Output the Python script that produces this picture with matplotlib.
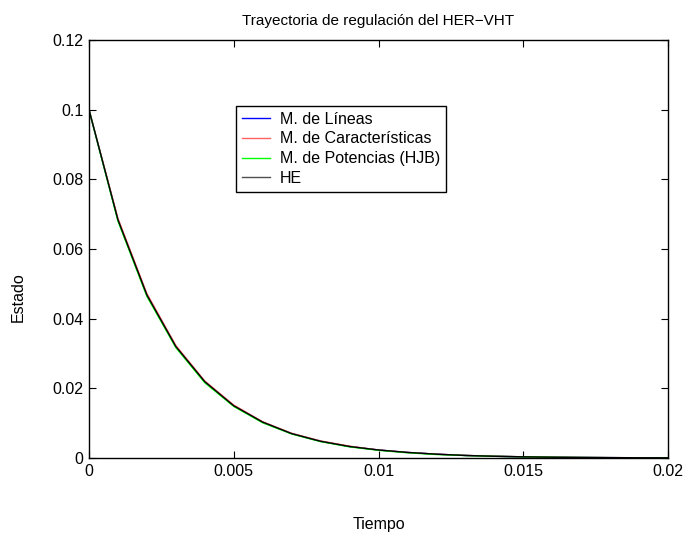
import matplotlib
matplotlib.use('agg')
import matplotlib.pyplot as plt

plt.rcParams['font.family'] = ['Liberation Sans', 'DejaVu Sans']

tiempo = [0.000, 0.001, 0.002, 0.003, 0.004, 0.005, 0.006, 0.007, 0.008, 0.009, 0.010,
          0.011, 0.012, 0.013, 0.014, 0.015, 0.016, 0.017, 0.018, 0.019, 0.020]

m_lineas = [0.1000, 0.0684, 0.0468, 0.0320, 0.0219, 0.0150, 0.0103, 0.0070, 0.0048, 0.0033, 0.0023,
            0.0016, 0.0011, 0.00073, 0.00050, 0.00034, 0.00023, 0.00016, 0.00011, 0.00007, 0.00005]
m_caract = [0.1000, 0.0688, 0.0472, 0.0323, 0.0221, 0.0152, 0.0104, 0.0071, 0.0049, 0.0034, 0.0023,
            0.0016, 0.0011, 0.00075, 0.00051, 0.00035, 0.00024, 0.00016, 0.00011, 0.00008, 0.00005]
m_potencias = [0.1000, 0.0680, 0.0464, 0.0317, 0.0216, 0.0148, 0.0101, 0.0069, 0.0047, 0.0032, 0.0022,
               0.0015, 0.0010, 0.00071, 0.00048, 0.00033, 0.00022, 0.00015, 0.00010, 0.00007, 0.00005]
he = [0.1000, 0.0684, 0.0468, 0.0320, 0.0219, 0.0150, 0.0103, 0.0070, 0.0048, 0.0033, 0.0023,
      0.0016, 0.0011, 0.00073, 0.00050, 0.00034, 0.00023, 0.00016, 0.00011, 0.00007, 0.00005]

xticks = [0, 0.005, 0.01, 0.015, 0.02]
xticklabels = ['0', '0.005', '0.01', '0.015', '0.02']
yticks = [0, 0.02, 0.04, 0.06, 0.08, 0.1, 0.12]
yticklabels = ['0', '0.02', '0.04', '0.06', '0.08', '0.1', '0.12']

fig = plt.figure(figsize=(6.86, 5.33), dpi=100)
ax = fig.add_axes([0.1297, 0.1407, 0.8441, 0.7843])

ax.plot(tiempo, m_lineas, c='#0000ff', lw=1, label='M. de Líneas')
ax.plot(tiempo, m_caract, c='#ff6060', lw=1, label='M. de Características')
ax.plot(tiempo, m_potencias, c='#00ff00', lw=1, label='M. de Potencias (HJB)')
ax.plot(tiempo, he, c='#000000', lw=1, label='HE')
handles, labels = ax.get_legend_handles_labels()

ax.set_xlim(0, 0.02)
ax.set_ylim(0, 0.12)
ax.set_xticks(xticks)
ax.set_xticklabels(xticklabels)
ax.set_yticks(yticks)
ax.set_yticklabels(yticklabels)
ax.tick_params(direction='in', length=5, top=True, right=True, labelsize=11.5, pad=4)
for s in ax.spines.values():
    s.set_linewidth(1)

ax.set_title('Trayectoria de regulación del HER\u2212VHT', fontsize=11, pad=11)
ax.set_xlabel('Tiempo', fontsize=11.5)
ax.set_ylabel('Estado', fontsize=11.5)
ax.xaxis.set_label_coords(0.5, -0.14)
ax.yaxis.set_label_coords(-0.11, 0.385)

leg = ax.legend(handles, labels, loc='upper left', bbox_to_anchor=(0.254, 0.842),
                fontsize=11.5, frameon=True, fancybox=False, edgecolor='black',
                framealpha=1, borderpad=0.35, labelspacing=0.3, handlelength=1.8,
                handletextpad=0.6, borderaxespad=0)
leg.get_frame().set_linewidth(1)
# HE shown in gray in the legend
leg.get_lines()[3].set_color('#505050')

plt.savefig('out.png', dpi=100)
